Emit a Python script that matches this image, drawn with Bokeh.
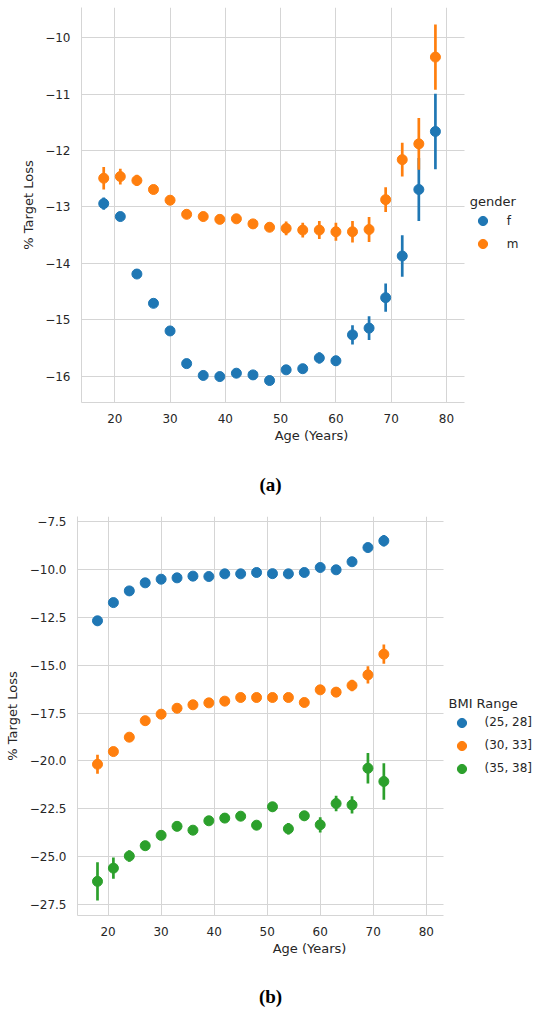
from bokeh.plotting import figure
from bokeh.models import (Legend, LegendItem, FixedTicker, CustomJSTickFormatter,
                          Range1d, Grid, Div)
from bokeh.embed import file_html
from bokeh.resources import INLINE

# ---------------- data: chart (a) ----------------
ages_a = [18, 21, 24, 27, 30, 33, 36, 39, 42, 45, 48, 51, 54, 57, 60, 63, 66, 69, 72, 75, 78]
f_mean = [-12.94, -13.17, -14.19, -14.71, -15.20, -15.78, -15.99, -16.01, -15.95, -15.98, -16.08,
          -15.89, -15.87, -15.68, -15.73, -15.27, -15.15, -14.61, -13.87, -12.69, -11.66]
f_err = [0.11, 0.05, 0.04, 0.04, 0.04, 0.05, 0.05, 0.05, 0.06, 0.05, 0.06,
         0.07, 0.07, 0.10, 0.09, 0.17, 0.21, 0.25, 0.37, 0.56, 0.67]
m_mean = [-12.49, -12.46, -12.53, -12.69, -12.88, -13.13, -13.17, -13.22, -13.21, -13.30, -13.36,
          -13.38, -13.41, -13.41, -13.44, -13.44, -13.40, -12.87, -12.16, -11.88, -10.34]
m_err = [0.20, 0.14, 0.10, 0.06, 0.06, 0.06, 0.06, 0.06, 0.07, 0.07, 0.08,
         0.12, 0.13, 0.16, 0.16, 0.19, 0.22, 0.22, 0.30, 0.46, 0.58]
gender_labels = ["f", "m"]

# ---------------- data: chart (b) ----------------
ages_b = [18, 21, 24, 27, 30, 33, 36, 39, 42, 45, 48, 51, 54, 57, 60, 63, 66, 69, 72]
b1_mean = [-12.69, -11.74, -11.13, -10.71, -10.52, -10.45, -10.36, -10.38, -10.24, -10.24,
           -10.17, -10.23, -10.24, -10.17, -9.91, -10.03, -9.61, -8.87, -8.52]
b1_err = [0.25, 0.12, 0.10, 0.10, 0.10, 0.10, 0.10, 0.10, 0.10, 0.10,
          0.10, 0.10, 0.10, 0.10, 0.12, 0.12, 0.14, 0.16, 0.30]
b2_mean = [-20.17, -19.51, -18.76, -17.90, -17.56, -17.25, -17.07, -16.97, -16.88, -16.69,
           -16.69, -16.69, -16.69, -16.95, -16.29, -16.41, -16.06, -15.51, -14.43]
b2_err = [0.50, 0.20, 0.15, 0.12, 0.12, 0.12, 0.12, 0.12, 0.12, 0.12,
          0.12, 0.12, 0.12, 0.15, 0.20, 0.25, 0.30, 0.45, 0.50]
b3_mean = [-26.28, -25.59, -24.96, -24.42, -23.88, -23.41, -23.61, -23.12, -22.98, -22.88,
           -23.35, -22.39, -23.54, -22.86, -23.33, -22.22, -22.29, -20.38, -21.07]
b3_err = [1.00, 0.55, 0.30, 0.20, 0.20, 0.20, 0.20, 0.20, 0.20, 0.20,
          0.20, 0.25, 0.30, 0.25, 0.40, 0.40, 0.45, 0.80, 0.95]
bmi_labels = ["(25, 28]", "(30, 33]", "(35, 38]"]

x_ticks = [20, 30, 40, 50, 60, 70, 80]
y_ticks_a = [-16, -15, -14, -13, -12, -11, -10]
y_ticks_b = [-27.5, -25.0, -22.5, -20.0, -17.5, -15.0, -12.5, -10.0, -7.5]
captions = ["(a)", "(b)"]

# axes extents (data units) of the visible axes box
xbox_a = (13.98, 83.3)
xbox_b = (14.23, 83.2)

COLORS = ["#1f77b4", "#ff7f0e", "#2ca02c"]
TXT = "#262626"
GRID = "#d5d5d5"
FONT = "DejaVu Sans"


def style(p, yticks, ydigits, xbox, ylab_standoff):
    p.outline_line_color = None
    p.background_fill_color = "white"
    p.border_fill_color = "white"
    for ax in (p.xaxis[0], p.yaxis[0]):
        ax.axis_line_color = GRID
        ax.axis_line_width = 1
        ax.major_tick_line_color = None
        ax.minor_tick_line_color = None
        ax.major_tick_out = 0
        ax.major_tick_in = 0
        ax.major_label_text_font = FONT
        ax.major_label_text_font_size = "12px"
        ax.major_label_text_color = TXT
        ax.axis_label_text_font = FONT
        ax.axis_label_text_font_size = "13px"
        ax.axis_label_text_color = TXT
        ax.axis_label_text_font_style = "normal"
    p.xaxis[0].bounds = xbox
    p.xaxis[0].ticker = FixedTicker(ticks=x_ticks)
    p.yaxis[0].ticker = FixedTicker(ticks=yticks)
    p.xaxis[0].formatter = CustomJSTickFormatter(code="return tick.toFixed(0);")
    p.yaxis[0].formatter = CustomJSTickFormatter(
        code="return (tick < 0 ? '\\u2212' : '') + Math.abs(tick).toFixed(%d);" % ydigits)
    p.xaxis[0].major_label_standoff = 11
    p.yaxis[0].major_label_standoff = 11
    p.xaxis[0].axis_label_standoff = 2
    p.yaxis[0].axis_label_standoff = ylab_standoff
    p.xgrid.grid_line_color = GRID
    p.xgrid.grid_line_width = 1
    if "cross_bounds" in Grid.properties():
        p.ygrid.grid_line_color = GRID
        p.ygrid.grid_line_width = 1
        p.ygrid.cross_bounds = xbox
    else:
        p.ygrid.grid_line_color = None
        n = len(yticks)
        p.segment(x0=[xbox[0]] * n, x1=[xbox[1]] * n, y0=yticks, y1=yticks,
                  line_color=GRID, line_width=1, level="underlay")


def series(p, ages, mean, err, color):
    lo = [m - e for m, e in zip(mean, err)]
    hi = [m + e for m, e in zip(mean, err)]
    p.segment(x0=ages, y0=lo, x1=ages, y1=hi, line_color=color, line_width=2.7)
    r = p.scatter(x=ages, y=mean, size=10, fill_color=color, line_color=color, line_width=1)
    return r


def make_legend(items, title, loc, standoff):
    leg = Legend(items=items, title=title, location=loc, orientation="vertical")
    leg.title_text_font = FONT
    leg.title_text_font_size = "13px"
    leg.title_text_font_style = "normal"
    leg.title_text_color = TXT
    leg.title_standoff = 0
    leg.label_text_font = FONT
    leg.label_text_font_size = "12px"
    leg.label_text_color = TXT
    leg.glyph_width = 25
    leg.glyph_height = 23
    leg.label_standoff = standoff
    leg.label_height = 19
    leg.spacing = 0
    leg.padding = 2
    leg.margin = 0
    leg.border_line_color = None
    leg.background_fill_alpha = 0
    return leg


def caption(text, height, pad_top):
    html = ('<div style="width:536px;padding-left:5px;padding-top:%dpx;text-align:center;'
            'font-family:\'Liberation Serif\',serif;font-weight:bold;font-size:19px;'
            'line-height:22px;color:#000;">%s</div>' % (pad_top, text))
    return Div(text=html, width=541, height=height, margin=0)


# ---------------- figure (a) ----------------
p1 = figure(width=541, height=460, output_backend="svg", toolbar_location=None,
            x_range=Range1d(xbox_a[0], 97.19), y_range=Range1d(-16.47, -9.46),
            min_border_left=81, min_border_right=0, min_border_top=7, min_border_bottom=58,
            x_axis_label="Age (Years)", y_axis_label="% Target Loss")
style(p1, y_ticks_a, 0, xbox_a, 6)
rf = series(p1, ages_a, f_mean, f_err, COLORS[0])
rm = series(p1, ages_a, m_mean, m_err, COLORS[1])
leg1 = make_legend([LegendItem(label=gender_labels[0], renderers=[rf]),
                    LegendItem(label=gender_labels[1], renderers=[rm])], "gender",
                   (388.8, 147), 12)
p1.add_layout(leg1, "center")
cap1 = caption(captions[0], 48, 14)

# ---------------- figure (b) ----------------
p2 = figure(width=541, height=460, output_backend="svg", toolbar_location=None,
            x_range=Range1d(xbox_b[0], 101.73), y_range=Range1d(-28.06, -7.25),
            min_border_left=77, min_border_right=0, min_border_top=8, min_border_bottom=53,
            x_axis_label="Age (Years)", y_axis_label="% Target Loss")
style(p2, y_ticks_b, 1, xbox_b, 7)
r1 = series(p2, ages_b, b1_mean, b1_err, COLORS[0])
r2 = series(p2, ages_b, b2_mean, b2_err, COLORS[1])
r3 = series(p2, ages_b, b3_mean, b3_err, COLORS[2])
leg2 = make_legend([LegendItem(label=bmi_labels[0], renderers=[r1]),
                    LegendItem(label=bmi_labels[1], renderers=[r2]),
                    LegendItem(label=bmi_labels[2], renderers=[r3])], "BMI Range",
                   (371.5, 135.5), 11)
p2.add_layout(leg2, "center")
cap2 = caption(captions[1], 45, 18)

open("out.html", "w").write(file_html([p1, cap1, p2, cap2], INLINE))
